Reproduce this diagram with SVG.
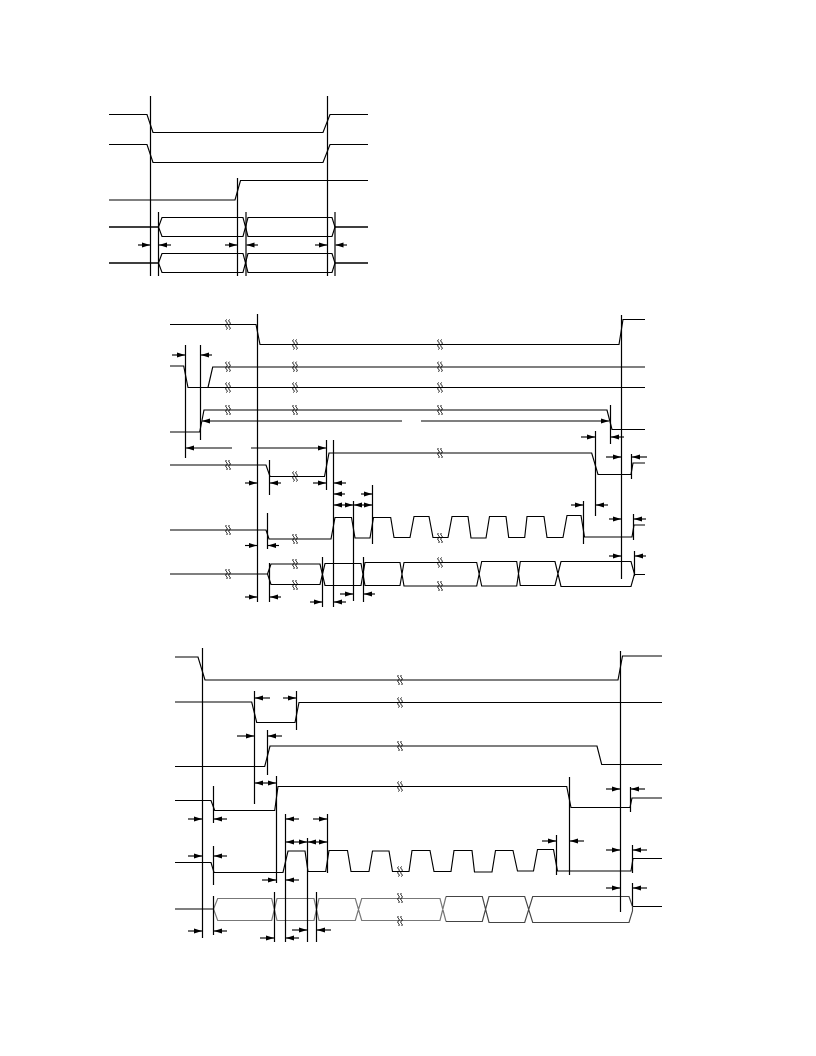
<svg xmlns="http://www.w3.org/2000/svg" width="816" height="1056" viewBox="0 0 816 1056">
<style>
path{fill:none;stroke:#000;stroke-width:1.15}
.t{stroke-width:1.7}
.a{marker-end:url(#h)}
.d{marker-start:url(#h);marker-end:url(#h)}
.v{stroke-width:1.2}
.k{stroke-width:1}
.g{stroke:#777;stroke-width:1.2}
.m{stroke:#444}
</style>
<defs>
<marker id="h" markerUnits="userSpaceOnUse" markerWidth="9" markerHeight="6" refX="8" refY="3" orient="auto-start-reverse"><polygon points="0,0.6 8,3 0,5.4" fill="#000"/></marker>
<g id="b"><path class="k" d="M-1.500-5C-4-3 1-2-1.500 0S1 3-1.500 5"/><path class="k" d="M1.500-5C-1-3 4-2 1.500 0S4 3 1.500 5"/></g>
</defs>
<rect width="816" height="1056" fill="#fff"/>

<g id="top-diagram">
<g id="t1-signal-1"><path d="M109 114.500H147L153 132.500H323L330 114.500H368"/></g>
<g id="t1-signal-2"><path d="M109 144.500H147L153 162.500H323L330 144.500H368"/></g>
<g id="t1-signal-3"><path d="M109 200H235L240.500 180.500H368"/></g>
<g id="t1-bus-1"><path class="t" d="M109 227H158.500M335 227H368"/><path d="M158.500 227L162 217.500H243L248 236.500H332L335 227L332 217.500H248L243 236.500H162Z"/></g>
<g id="t1-bus-2"><path class="t" d="M109 263H158.500M335 263H368"/><path d="M158.500 263L162 253.500H243L248 272.500H332L335 263L332 253.500H248L243 272.500H162Z"/></g>
</g>

<g id="middle-diagram">
<g id="t2-signal-1"><path d="M170 324.500H256L260 344.500H619L623 319.500H645"/></g>
<g id="t2-signal-2"><path d="M170 366H183.700L188 387.500H645M208 387.500L212.700 367H645"/></g>
<g id="t2-signal-3"><path d="M170 432H199.700L204 410H607L612 429.500H645"/></g>
<g id="t2-signal-4"><path d="M170 465H266L270 476.500H324.500L329 453H591.700L598 474.500H631L633 463H645"/></g>
<g id="t2-signal-5"><path d="M170 530H266L269 539H331L335 517.500H351.500L355 538H370L373.500 517.500H390.700L394 537.500H410L414 516.500H429L433 537.500H448L452 516.500H468L471 538H486L489.500 516.500H506L508.700 537.500H524.700L527 516.500H544L547 537.500H563L567 515.500H581L584.500 537H632L634 525H645"/></g>
<g id="t2-bus"><path d="M170 574H267.500M634.500 574.500H645"/><path d="M267.500 574L271 564H320L325 585.500H361L365 562.500H400L404 586H476.700L481.700 561.500H516.700L520.300 585.500H555L561 561.500H631L634.500 574L631 586.500H561L555 561.500H520.300L516.700 586H481.700L476.700 562.500H404L400 585.500H365L361 563.500H325L320 584.500H271Z"/></g>
<g id="t2-breaks">
<use href="#b" x="228" y="324.500"/><use href="#b" x="228" y="366.700"/><use href="#b" x="228" y="387.500"/><use href="#b" x="228" y="410"/><use href="#b" x="228" y="465"/><use href="#b" x="228" y="530"/><use href="#b" x="228" y="574"/>
<use href="#b" x="295" y="344.500"/><use href="#b" x="295" y="366.700"/><use href="#b" x="295" y="387.500"/><use href="#b" x="295" y="410"/><use href="#b" x="295" y="476.500"/><use href="#b" x="295" y="539"/><use href="#b" x="295" y="564"/><use href="#b" x="295" y="585"/>
<use href="#b" x="440" y="344.500"/><use href="#b" x="440" y="366.700"/><use href="#b" x="440" y="387.500"/><use href="#b" x="440" y="410"/><use href="#b" x="440" y="453"/><use href="#b" x="440" y="538"/><use href="#b" x="440" y="562.500"/><use href="#b" x="440" y="586"/>
</g>
</g>

<g id="bottom-diagram">
<g id="t3-signal-1"><path d="M175 657H198L205 680H618L622.500 656H662"/></g>
<g id="t3-signal-2"><path d="M175 702H251.700L256.700 722.500H295L299 702.500H662"/></g>
<g id="t3-signal-3"><path d="M175 766.500H264.700L270 746H597L601.700 764.500H662"/></g>
<g id="t3-signal-4"><path d="M175 800.500H211L214.700 810.500H274.700L278 786.500H566.700L571 807.500H630L632 798H662"/></g>
<g id="t3-signal-5"><path d="M175 862.500H211L214 872.500H283L288 851H305L308 871.500H325.700L329 850.500H347.500L351 871.500H369L372.500 851H389L392.500 871.500H409L412 850.500H430L434 871.500H451L454 850.500H472L474.500 872H492L495.500 850.500H513L517.500 871H533.500L537.500 849.500H553.500L557.500 871H631L633 858.500H662"/></g>
<g id="t3-bus"><path d="M175 909H213.500M632.500 906.500H662"/><path class="g" d="M213.500 909L217.700 898.500H271.700L277 920.500H314L319 898.500H355.300L361.700 920.500H440L446 896.500M213.500 909L217.700 920.500H271.700L277 898.500H314L319 920.500H355.300L361.700 898.500H440L446 921.500"/><path class="m" d="M446 896.500H482.300L489 922.500H524.700L532.700 896.500H629L632.500 906.500V911L629 922.500H532.700L524.700 896.500H489L482.300 921.500H446"/></g>
<g id="t3-breaks">
<use href="#b" x="400" y="680"/><use href="#b" x="400" y="702.500"/><use href="#b" x="400" y="746"/><use href="#b" x="400" y="786.500"/><use href="#b" x="400" y="871.500"/><use href="#b" x="400" y="898"/><use href="#b" x="400" y="921"/>
</g>
</g>

<g id="connectors">
<g id="t1-guides"><path class="v" d="M150.500 96V276M327.500 96V276M158.500 212V276M237.500 178V276M246 212V276M335 212V276"/></g>
<g id="t1-arrows"><path class="a" d="M138 245H150"/><path class="a" d="M171 245H159"/><path class="a" d="M225 245H237"/><path class="a" d="M258 245H246.500"/><path class="a" d="M315 245H327"/><path class="a" d="M347 245H335.500"/></g>

<g id="t2-guides"><path class="v" d="M257.500 314V602M185.500 345V458M200.500 345V440M326.500 440V490M333.500 440V607M269.500 460V495M353.500 501V601M372.500 485V544M267.500 513V549M269.500 563V602M322.500 557V607M363.500 557V602M583.500 501V544M595.500 431V516M621.500 315V579M631.500 454V479M633.500 514V540M634.500 551V576M610.500 405V444"/></g>
<g id="t2-arrows">
<path class="a" d="M172 355H185"/><path class="a" d="M212 355H201"/>
<path class="a" d="M402 421H202"/><path class="a" d="M421 421H609"/>
<path class="a" d="M232 448H186"/><path class="a" d="M251 448H326"/>
<path class="a" d="M245 483H257"/><path class="a" d="M281 483H270"/><path class="a" d="M313 483H326"/><path class="a" d="M346 483H334"/>
<path class="a" d="M345 494H334"/><path class="a" d="M361 494H372"/>
<path class="d" d="M334 505H353"/><path class="d" d="M354 505H372"/>
<path class="a" d="M245 545.500H257"/><path class="a" d="M279 545.500H268"/>
<path class="a" d="M245 597H257"/><path class="a" d="M281 597H270"/>
<path class="a" d="M310 602H322"/><path class="a" d="M346 602H334"/>
<path class="a" d="M340 594H353"/><path class="a" d="M375 594H364"/>
<path class="a" d="M581 437H595"/><path class="a" d="M624 437H611"/>
<path class="a" d="M606 457H621"/><path class="a" d="M647 457H632"/>
<path class="a" d="M571 505H583"/><path class="a" d="M608 505H596"/>
<path class="a" d="M609 519H621"/><path class="a" d="M646 519H634"/>
<path class="a" d="M609 556H621"/><path class="a" d="M646 556H635"/>
</g>

<g id="t3-guides"><path class="v" d="M202.500 648V938M620.500 651V912M254.500 691V804M296.500 691V730M267.500 730V775M213.500 786V823M276.500 776V883M285.500 814V942M327.500 814V873M307.500 838V942M316.500 892V942M274.500 892V942M213.500 846V885M213.500 896V935M556.500 835V875M569.500 777V875M632.500 845V873M630.500 787V812M632.500 883V906"/></g>
<g id="t3-arrows">
<path class="a" d="M270 698H255"/><path class="a" d="M283 698H296"/>
<path class="a" d="M237 736H254"/><path class="a" d="M282 736H268"/>
<path class="d" d="M255 783H276"/>
<path class="a" d="M188 819H202"/><path class="a" d="M227 819H214"/>
<path class="a" d="M299 819H286"/><path class="a" d="M313 819H327"/>
<path class="d" d="M286 842H307"/><path class="d" d="M308 842H327"/>
<path class="a" d="M188 856H202"/><path class="a" d="M227 856H214"/>
<path class="a" d="M262 880H276"/><path class="a" d="M299 880H286"/>
<path class="a" d="M188 931H202"/><path class="a" d="M227 931H214"/>
<path class="a" d="M292 930H307"/><path class="a" d="M331 930H317"/>
<path class="a" d="M260 938H274"/><path class="a" d="M299 938H286"/>
<path class="a" d="M606 789H620"/><path class="a" d="M645 789H631"/>
<path class="a" d="M542 841H556"/><path class="a" d="M584 841H570"/>
<path class="a" d="M606 850H620"/><path class="a" d="M647 850H633"/>
<path class="a" d="M606 888H620"/><path class="a" d="M647 888H633"/>
</g>
</g>
</svg>
